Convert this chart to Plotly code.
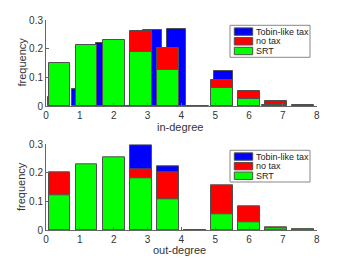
import plotly.graph_objects as go

# bin centres
bins_8 = [0.4, 1.2, 2.0, 2.8, 3.6, 4.4, 5.2, 6.0, 6.8, 7.6]
bins_7 = [0.35, 1.05, 1.75, 2.45, 3.15, 3.85, 4.55, 5.25, 5.95, 6.65]

# in-degree frequencies
in_tobin = [0.03, 0.058, 0.220, 0.0, 0.264, 0.268, 0.0, 0.123, 0.032, 0.005]
in_notax = [0.05, 0.10, 0.227, 0.263, 0.201, 0.0, 0.090, 0.053, 0.017, 0.0]
in_srt = [0.149, 0.214, 0.229, 0.190, 0.124, 0.0, 0.064, 0.023, 0.005, 0.002]

# out-degree frequencies
out_tobin = [0.10, 0.20, 0.183, 0.295, 0.222, 0.0, 0.0, 0.0, 0.0, 0.0]
out_notax = [0.203, 0.06, 0.07, 0.214, 0.201, 0.0, 0.157, 0.084, 0.0105, 0.002]
out_srt = [0.123, 0.230, 0.255, 0.180, 0.109, 0.0, 0.056, 0.028, 0.007, 0.002]

names = ["Tobin-like tax", "no tax", "SRT"]
colors = ["#0000FF", "#FF0000", "#00FF00"]
edge = "rgb(80,80,80)"
FONT = "Liberation Sans, Arial, sans-serif"

# page body has an 8px margin; the figure is laid out in window pixel coords
OFF = 8
W, H = 334, 255
def px_x(p): return (p - OFF) / W
def px_y(p): return (H - (p - OFF)) / H

fig = go.Figure()

top = [(bins_7, in_tobin, 0.56), (bins_8, in_notax, 0.64), (bins_8, in_srt, 0.64)]
bot = [(bins_8, out_tobin, 0.64), (bins_8, out_notax, 0.64), (bins_8, out_srt, 0.64)]

for i, (x, y, w) in enumerate(top):
    fig.add_trace(go.Bar(x=x, y=y, width=w, name=names[i], xaxis="x", yaxis="y",
                         marker=dict(color=colors[i], line=dict(color=edge, width=1)),
                         showlegend=False))
for i, (x, y, w) in enumerate(bot):
    fig.add_trace(go.Bar(x=x, y=y, width=w, name=names[i], xaxis="x2", yaxis="y2",
                         marker=dict(color=colors[i], line=dict(color=edge, width=1)),
                         showlegend=False))

xdom = [px_x(46), px_x(316.7)]
axis_common = dict(showgrid=False, zeroline=False, showline=True, linecolor="#666",
                   linewidth=1, ticks="inside", ticklen=3, tickcolor="#666",
                   tickfont=dict(family=FONT, size=10, color="#333"))

fig.update_layout(
    width=W, height=H, margin=dict(l=0, r=0, t=0, b=0, autoexpand=False),
    plot_bgcolor="white", paper_bgcolor="white",
    barmode="overlay", bargap=0, showlegend=False,
    font=dict(family=FONT, color="#333"),
    xaxis=dict(domain=xdom, range=[0, 8], tickvals=list(range(9)), anchor="y", **axis_common),
    yaxis=dict(domain=[px_y(106), px_y(20)], range=[0, 0.3], tickvals=[0, 0.1, 0.2, 0.3],
               ticktext=["0", "0.1", "0.2", "0.3"], anchor="x", **axis_common),
    xaxis2=dict(domain=xdom, range=[0, 8], tickvals=list(range(9)), anchor="y2", **axis_common),
    yaxis2=dict(domain=[px_y(230.3), px_y(144.3)], range=[0, 0.3], tickvals=[0, 0.1, 0.2, 0.3],
                ticktext=["0", "0.1", "0.2", "0.3"], anchor="x2", **axis_common),
)

ann = dict(xref="paper", yref="paper", showarrow=False, xanchor="center", yanchor="middle",
           font=dict(family=FONT, size=11, color="#333"))
fig.add_annotation(text="in-degree", x=px_x(180), y=px_y(126.5), **ann)
fig.add_annotation(text="out-degree", x=px_x(180), y=px_y(250), **ann)
fig.add_annotation(text="frequency", x=px_x(21), y=px_y(62.5), textangle=-90, **ann)
fig.add_annotation(text="frequency", x=px_x(21), y=px_y(187), textangle=-90, **ann)

# manual legends (box in window pixel coordinates)
def legend(top_px, bottom_px):
    fig.add_shape(type="rect", xref="paper", yref="paper",
                  x0=px_x(230), x1=px_x(310), y0=px_y(bottom_px), y1=px_y(top_px),
                  line=dict(color="#888", width=1), fillcolor="white", layer="above")
    step = (bottom_px - top_px) / 3.3
    for i in range(3):
        yc = top_px + step * (i + 0.65)
        fig.add_shape(type="rect", xref="paper", yref="paper",
                      x0=px_x(234.3), x1=px_x(252.7), y0=px_y(yc + 3.7), y1=px_y(yc - 3.7),
                      line=dict(color=edge, width=1), fillcolor=colors[i], layer="above")
        fig.add_annotation(text=names[i], x=px_x(254), y=px_y(yc), xanchor="left",
                           yanchor="middle", xref="paper", yref="paper", showarrow=False,
                           font=dict(family=FONT, size=9, color="#222"))

legend(25.3, 57.3)
legend(150.3, 182)

fig.write_html("out.html")
